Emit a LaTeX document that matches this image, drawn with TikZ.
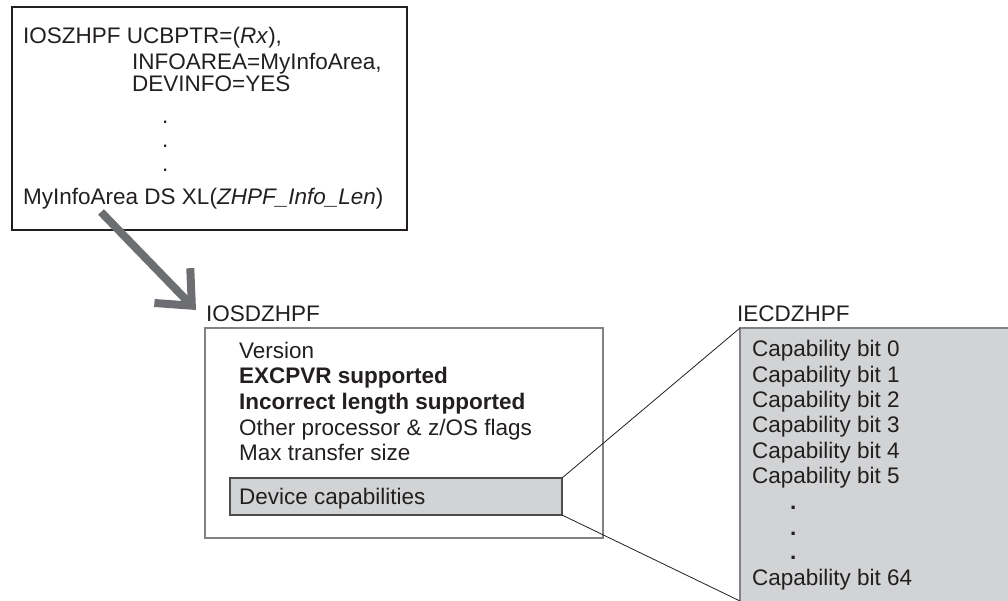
\documentclass[tikz,border=0pt]{standalone}
\usepackage{fontspec}
\setmainfont{Liberation Sans}
\usetikzlibrary{arrows.meta}
\definecolor{ink}{HTML}{231F20}
\definecolor{fillgray}{HTML}{D1D3D4}
\definecolor{arrowgray}{HTML}{6D6E71}
\definecolor{boxgray}{HTML}{808285}
\begin{document}
\begin{tikzpicture}[x=1pt,y=-1pt,
  txt/.style={anchor=base west, inner sep=0pt, text=ink, font=\fontsize{22.5}{25}\selectfont},
  bx/.style={anchor=north west, inner sep=0pt, outer sep=0pt},
  bigarrow/.style={line width=8pt, arrowgray, -{Straight Barb[length=28pt,width=50pt]}},
  zoomline/.style={ink, line width=0.8pt}]
\useasboundingbox (0,0) rectangle (1008,601);
\clip (0,0) rectangle (1008,601);
% boxes
\node[bx, draw=ink, line width=1.1pt, minimum width=395pt, minimum height=223pt] (code) at (12,7) {};
\node[bx, draw=boxgray, line width=1.4pt, minimum width=398pt, minimum height=210pt] (ios) at (205,328) {};
\node[bx, draw=ink!80, fill=fillgray, line width=1.1pt, minimum width=332pt, minimum height=37pt] (dev) at (230,478) {};
\node[bx, draw=boxgray, fill=fillgray, line width=1.4pt, minimum width=290pt, minimum height=290pt] (iec) at (740,328) {};
% code text
\node[txt] (c1) at (23,43.3) {IOSZHPF UCBPTR=(\textit{Rx}),};
\node[txt] (c2) at (132,70) {INFOAREA=MyInfoArea,};
\node[txt] (c3) at (132,91.7) {DEVINFO=YES};
\node[txt] (cd1) at (162,124) {.};
\node[txt] (cd2) at (162,148) {.};
\node[txt] (cd3) at (162,172) {.};
\node[txt] (c4) at (23,205) {MyInfoArea DS XL(\textit{ZHPF\_Info\_Len})};
% labels
\node[txt] (lios) at (206,321.7) {IOSDZHPF};
\node[txt] (liec) at (737,321.7) {IECDZHPF};
% ios text
\node[txt] (i1) at (239,358) {Version};
\node[txt] (i2) at (239,383.3) {\bfseries EXCPVR supported};
\node[txt] (i3) at (239,409) {\bfseries Incorrect length supported};
\node[txt] (i4) at (239,435) {Other processor \& z/OS flags};
\node[txt] (i5) at (239,460) {Max transfer size};
\node[txt] (i6) at (239,504) {Device capabilities};
% capability text
\node[txt] (b0) at (752,356.7) {Capability bit 0};
\node[txt] (b1) at (752,382) {Capability bit 1};
\node[txt] (b2) at (752,407.3) {Capability bit 2};
\node[txt] (b3) at (752,432.6) {Capability bit 3};
\node[txt] (b4) at (752,458) {Capability bit 4};
\node[txt] (b5) at (752,483.3) {Capability bit 5};
\node[txt] (bd1) at (790,509) {\bfseries .};
\node[txt] (bd2) at (790,535) {\bfseries .};
\node[txt] (bd3) at (790,559) {\bfseries .};
\node[txt] (b64) at (752,585) {Capability bit 64};
% connectors
\coordinate (cut) at (740,601);
\draw[zoomline] (dev.north east) -- (iec.north west);
\draw[zoomline] (dev.south east) -- (cut);
\coordinate (as) at (101,212);
\coordinate (at) at (196,310);
\draw[bigarrow] (as) -- (at);
\end{tikzpicture}
\end{document}
